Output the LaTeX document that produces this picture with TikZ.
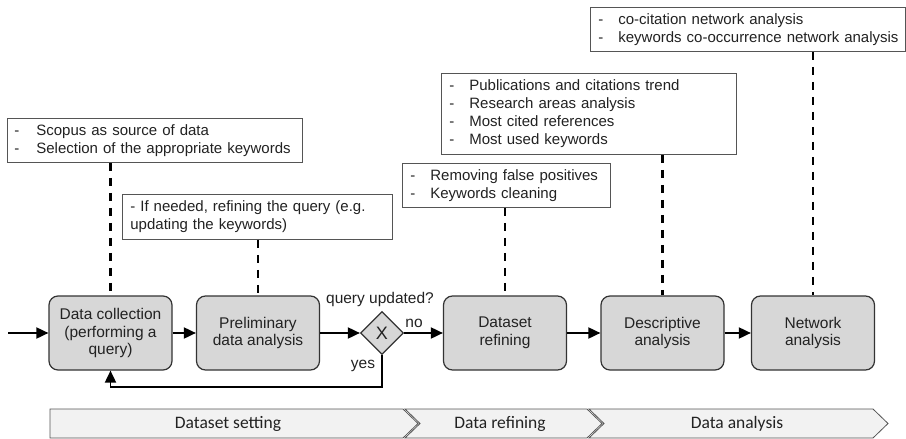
\documentclass[tikz,border=0pt]{standalone}
\usepackage{fontspec}
\setmainfont{Liberation Sans}
\newfontfamily\bandfont{Carlito}
\usetikzlibrary{shapes.geometric,arrows.meta}
\definecolor{boxgray}{HTML}{D7D7D7}
\definecolor{bandgray}{HTML}{F2F2F2}
\definecolor{edgegray}{HTML}{555555}
\definecolor{txt}{HTML}{222222}
\newcommand{\itm}[2][20pt]{\mbox{\makebox[#1][l]{-}#2}}
\begin{document}
\begin{tikzpicture}[x=1pt,y=-1pt,
  procbox/.style={draw=black!80, line width=1.2pt, fill=boxgray, rounded corners=9pt,
    minimum width=123pt, minimum height=74pt, align=center, text=txt,
    font=\fontsize{15.5}{17.5}\selectfont, inner sep=2pt},
  gateway/.style={draw=black!80, line width=1.2pt, fill=boxgray, diamond, aspect=1,
    minimum width=43pt, minimum height=43pt, inner sep=0pt, text=txt,
    font=\fontsize{18}{18}\selectfont},
  notebox/.style={draw=edgegray, line width=0.8pt, fill=white, anchor=north west,
    align=left, text=txt, font=\fontsize{15}{18}\selectfont, inner xsep=8pt, inner ysep=3pt},
  flow/.style={line width=1.8pt, -{Triangle[length=12pt,width=11pt]}},
  linkline/.style={line width=2.2pt, dash pattern=on 8pt off 7pt},
  lbl/.style={text=txt, font=\fontsize{15.5}{17}\selectfont, inner sep=0pt},
  band/.style={draw=edgegray, line width=0.8pt, fill=bandgray},
  bandlbl/.style={font=\bandfont\fontsize{17.5}{19}\selectfont, text=txt, inner sep=0pt}
]
\useasboundingbox (0,0) rectangle (906,439);

% process nodes
\node[procbox] (dc) at (110.5,333) {Data collection\\(performing a\\query)};
\node[procbox] (pda) at (258,333) {Preliminary\\data analysis};
\node[gateway] (gw) at (382,333) {X};
\node[procbox] (dr) at (505,333) {Dataset\\refining};
\node[procbox] (da) at (662.5,333) {Descriptive\\analysis};
\node[procbox] (na) at (813,333) {Network\\analysis};

% note boxes
\node[notebox, text width=281pt, minimum height=44pt, inner xsep=7pt] (n1) at (7,118)
  {\itm[22pt]{Scopus as source of data}\\\itm[22pt]{Selection of the appropriate keywords}};
\node[notebox, text width=254pt, minimum height=45pt] (n2) at (122,194)
  {\mbox{- If needed, refining the query (e.g.}\\\mbox{updating the keywords)}};
\node[notebox, text width=192pt, minimum height=44pt] (n3) at (402,163)
  {\itm{Removing false positives}\\\itm{Keywords cleaning}};
\node[notebox, text width=279pt, minimum height=81pt] (n4) at (441,73)
  {\itm{Publications and citations trend}\\\itm{Research areas analysis}\\\itm{Most cited references}\\\itm{Most used keywords}};
\node[notebox, text width=299pt, minimum height=44pt] (n5) at (590,7)
  {\itm{co-citation network analysis}\\\itm{keywords co-occurrence network analysis}};

% dashed links
\draw[linkline] (n1.south -| dc.north) -- (dc.north);
\draw[linkline] (n2.south -| pda.north) -- (pda.north);
\draw[linkline] (n3.south -| dr.north) -- (dr.north);
\draw[linkline] (n4.south -| da.north) -- (da.north);
\draw[linkline] (n5.south -| na.north) -- (na.north);

% flow
\coordinate (start) at (8,333);
\coordinate (fb) at (382,387);
\draw[flow] (start) -- (dc.west);
\draw[flow] (dc.east) -- (pda.west);
\draw[flow] (pda.east) -- (gw.west);
\draw[flow] (gw.east) -- (dr.west);
\draw[flow] (dr.east) -- (da.west);
\draw[flow] (da.east) -- (na.west);
\draw[flow] (gw.south) -- (fb) -| (dc.south);

\node[lbl] (q) at (380,299) {query updated?};
\node[lbl] (no) at (414,323) {no};
\node[lbl] (yes) at (363,366) {yes};

% phase bands
\draw[band] (50,409) -- (403,409) -- (418,423.5) -- (403,438) -- (50,438) -- cycle;
\draw[band] (405,409) -- (587,409) -- (602,423.5) -- (587,438) -- (405,438) -- (420,423.5) -- cycle;
\draw[band] (589,409) -- (873,409) -- (888,423.5) -- (873,438) -- (589,438) -- (604,423.5) -- cycle;
\node[bandlbl] (b1) at (228,424) {Dataset setting};
\node[bandlbl] (b2) at (500,424) {Data refining};
\node[bandlbl] (b3) at (737,424) {Data analysis};
\end{tikzpicture}
\end{document}
